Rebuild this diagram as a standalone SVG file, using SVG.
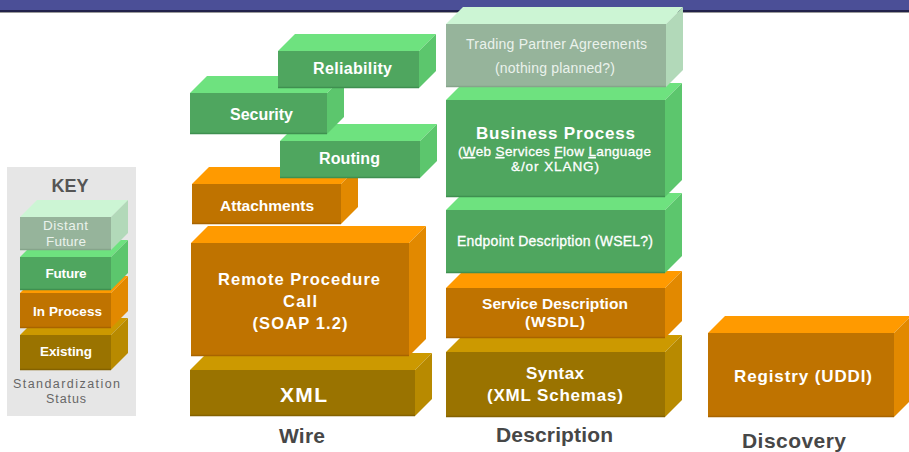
<svg xmlns="http://www.w3.org/2000/svg" width="909" height="452" viewBox="0 0 909 452">
  <style>
    text { font-family: "Liberation Sans", Arial, sans-serif; text-anchor: middle; }
    .lbl { fill: #ffffff; font-weight: bold; }
    .reg { fill: #ffffff; font-weight: normal; }
    .pale { fill: #eaf2ec; font-weight: normal; }
    .col { fill: #474747; font-weight: bold; font-size: 21px; }
    .keyhead { fill: #555555; font-weight: bold; font-size: 18px; }
    .keynote { fill: #666666; font-size: 12.5px; }
    /* face colours per standardization status */
    .dist .front { fill: #96b49b; } .dist .top { fill: #ccf5d4; } .dist .side { fill: #b2d9b9; } .dist .edge { stroke: #86a48b; }
    .fut .front { fill: #4fa65f; } .fut .top { fill: #6ee27f; } .fut .side { fill: #5cc66d; } .fut .edge { stroke: #3f9050; }
    .proc .front { fill: #bf7300; } .proc .top { fill: #ff9a00; } .proc .side { fill: #e28900; } .proc .edge { stroke: #a86400; }
    .exist .front { fill: #9a7300; } .exist .top { fill: #cc9900; } .exist .side { fill: #b88a00; } .exist .edge { stroke: #846200; }
    .edge { stroke-width: 1.5; }
    .u { text-decoration: underline; }
  </style>

  <!-- title bar -->
  <rect x="0" y="0" width="909" height="10" fill="#4b4f97"/>
  <rect x="0" y="10" width="909" height="2" fill="#22224a"/>
  <rect x="0" y="12" width="909" height="1" fill="#9a9a9a"/>

  <!-- key panel -->
  <g id="key">
    <rect x="7" y="167" width="129" height="249" fill="#e6e6e6"/>
    <text class="keyhead" x="70" y="192">KEY</text>
    <g id="key-existing" class="exist">
      <polygon class="top" points="20,335 37,318 128,318 111,335"/>
      <polygon class="side" points="111,335 128,318 128,353 111,370"/>
      <rect class="front" x="20" y="335" width="91" height="35"/>
      <line class="edge" x1="20" y1="369.5" x2="111" y2="369.5"/>
      <text class="lbl" x="66" y="356" font-size="13.5" textLength="52">Existing</text>
    </g>
    <g id="key-inprocess" class="proc">
      <polygon class="top" points="20,293 37,276 128,276 111,293"/>
      <polygon class="side" points="111,293 128,276 128,311 111,328"/>
      <rect class="front" x="20" y="293" width="91" height="35"/>
      <line class="edge" x1="20" y1="327.5" x2="111" y2="327.5"/>
      <text class="lbl" x="67.5" y="316" font-size="13.5" textLength="69">In Process</text>
    </g>
    <g id="key-future" class="fut">
      <polygon class="top" points="20,257 37,240 128,240 111,257"/>
      <polygon class="side" points="111,257 128,240 128,273 111,290"/>
      <rect class="front" x="20" y="257" width="91" height="33"/>
      <line class="edge" x1="20" y1="289.5" x2="111" y2="289.5"/>
      <text class="lbl" x="66" y="278" font-size="13.5" textLength="41">Future</text>
    </g>
    <g id="key-distant" class="dist">
      <polygon class="top" points="20,217 37,200 128,200 111,217"/>
      <polygon class="side" points="111,217 128,200 128,233 111,250"/>
      <rect class="front" x="20" y="217" width="91" height="33"/>
      <line class="edge" x1="20" y1="249.5" x2="111" y2="249.5"/>
      <text class="pale" x="65.5" y="230" font-size="13.5" textLength="45">Distant</text>
      <text class="pale" x="66" y="246" font-size="13.5" textLength="40">Future</text>
    </g>
    <text class="keynote" x="66.5" y="388" textLength="107">Standardization</text>
    <text class="keynote" x="66" y="403" textLength="40">Status</text>
  </g>

  <!-- Wire column -->
  <g id="xml" class="exist">
    <polygon class="top" points="190,370 207,353 432,353 415,370"/>
    <polygon class="side" points="415,370 432,353 432,399 415,416"/>
    <rect class="front" x="190" y="370" width="225" height="46"/>
    <line class="edge" x1="190" y1="415.5" x2="415" y2="415.5"/>
    <text class="lbl" x="303.5" y="402" font-size="21" textLength="47">XML</text>
  </g>
  <g id="rpc" class="proc">
    <polygon class="top" points="191,243 208,226 426,226 409,243"/>
    <polygon class="side" points="409,243 426,226 426,339 409,356"/>
    <rect class="front" x="191" y="243" width="218" height="113"/>
    <line class="edge" x1="191" y1="355.5" x2="409" y2="355.5"/>
    <text class="lbl" x="299" y="285" font-size="16.5" textLength="162">Remote Procedure</text>
    <text class="lbl" x="300" y="307" font-size="16.5" textLength="34">Call</text>
    <text class="lbl" x="300" y="329" font-size="16.5" textLength="95">(SOAP 1.2)</text>
  </g>
  <g id="attachments" class="proc">
    <polygon class="top" points="192,184 209,167 358,167 341,184"/>
    <polygon class="side" points="341,184 358,167 358,207 341,224"/>
    <rect class="front" x="192" y="184" width="149" height="40"/>
    <line class="edge" x1="192" y1="223.5" x2="341" y2="223.5"/>
    <text class="lbl" x="267" y="211" font-size="15.5" textLength="94">Attachments</text>
  </g>
  <g id="routing" class="fut">
    <polygon class="top" points="280,141 297,124 437,124 420,141"/>
    <polygon class="side" points="420,141 437,124 437,161 420,178"/>
    <rect class="front" x="280" y="141" width="140" height="37"/>
    <line class="edge" x1="280" y1="177.5" x2="420" y2="177.5"/>
    <text class="lbl" x="349.5" y="164" font-size="16" textLength="61">Routing</text>
  </g>
  <g id="security" class="fut">
    <polygon class="top" points="190,93 207,76 344,76 327,93"/>
    <polygon class="side" points="327,93 344,76 344,117 327,134"/>
    <rect class="front" x="190" y="93" width="137" height="41"/>
    <line class="edge" x1="190" y1="133.5" x2="327" y2="133.5"/>
    <text class="lbl" x="261.5" y="120" font-size="16" textLength="63">Security</text>
  </g>
  <g id="reliability" class="fut">
    <polygon class="top" points="278,51 295,34 436,34 419,51"/>
    <polygon class="side" points="419,51 436,34 436,71 419,88"/>
    <rect class="front" x="278" y="51" width="141" height="37"/>
    <line class="edge" x1="278" y1="87.5" x2="419" y2="87.5"/>
    <text class="lbl" x="352.5" y="74" font-size="16" textLength="79">Reliability</text>
  </g>

  <!-- Description column -->
  <g id="syntax" class="exist">
    <polygon class="top" points="446,352 463,335 682,335 665,352"/>
    <polygon class="side" points="665,352 682,335 682,400 665,417"/>
    <rect class="front" x="446" y="352" width="219" height="65"/>
    <line class="edge" x1="446" y1="416.5" x2="665" y2="416.5"/>
    <text class="lbl" x="555" y="379" font-size="17" textLength="58">Syntax</text>
    <text class="lbl" x="555" y="401" font-size="17" textLength="136">(XML Schemas)</text>
  </g>
  <g id="wsdl" class="proc">
    <polygon class="top" points="446,288 463,271 682,271 665,288"/>
    <polygon class="side" points="665,288 682,271 682,321 665,338"/>
    <rect class="front" x="446" y="288" width="219" height="50"/>
    <line class="edge" x1="446" y1="337.5" x2="665" y2="337.5"/>
    <text class="lbl" x="555" y="309" font-size="15.5" textLength="146">Service Description</text>
    <text class="lbl" x="555" y="327" font-size="15.5" textLength="60">(WSDL)</text>
  </g>
  <g id="endpoint" class="fut">
    <polygon class="top" points="446,210 463,193 682,193 665,210"/>
    <polygon class="side" points="665,210 682,193 682,256 665,273"/>
    <rect class="front" x="446" y="210" width="219" height="63"/>
    <line class="edge" x1="446" y1="272.5" x2="665" y2="272.5"/>
    <text class="reg" x="555" y="246" font-size="14" textLength="196" stroke="#ffffff" stroke-width="0.3">Endpoint Description (WSEL?)</text>
  </g>
  <g id="business" class="fut">
    <polygon class="top" points="446,100 463,83 682,83 665,100"/>
    <polygon class="side" points="665,100 682,83 682,180 665,197"/>
    <rect class="front" x="446" y="100" width="219" height="97"/>
    <line class="edge" x1="446" y1="196.5" x2="665" y2="196.5"/>
    <text class="lbl" x="555.5" y="139" font-size="17" textLength="159">Business Process</text>
    <text class="reg" x="554.5" y="156" font-size="13.5" textLength="193" stroke="#ffffff" stroke-width="0.3">(<tspan class="u">W</tspan>eb <tspan class="u">S</tspan>ervices <tspan class="u">F</tspan>low <tspan class="u">L</tspan>anguage</text>
    <text class="reg" x="555" y="171" font-size="13.5" textLength="88" stroke="#ffffff" stroke-width="0.3">&amp;/or XLANG)</text>
  </g>
  <g id="trading" class="dist">
    <polygon class="top" points="446,24 463,7 683,7 666,24"/>
    <polygon class="side" points="666,24 683,7 683,70 666,87"/>
    <rect class="front" x="446" y="24" width="220" height="63"/>
    <line class="edge" x1="446" y1="86.5" x2="666" y2="86.5"/>
    <text class="pale" x="556.5" y="49" font-size="14" textLength="181">Trading Partner Agreements</text>
    <text class="pale" x="555" y="73" font-size="14" textLength="120">(nothing planned?)</text>
  </g>

  <!-- Discovery column -->
  <g id="registry" class="proc">
    <polygon class="top" points="708,333 725,316 911,316 894,333"/>
    <polygon class="side" points="894,333 911,316 911,400 894,417"/>
    <rect class="front" x="708" y="333" width="186" height="84"/>
    <line class="edge" x1="708" y1="416.5" x2="894" y2="416.5"/>
    <text class="lbl" x="803" y="382" font-size="17" textLength="138">Registry (UDDI)</text>
  </g>

  <!-- column captions -->
  <text class="col" x="302" y="443" textLength="46">Wire</text>
  <text class="col" x="554.5" y="442" textLength="117">Description</text>
  <text class="col" x="794" y="448" textLength="104">Discovery</text>
</svg>
